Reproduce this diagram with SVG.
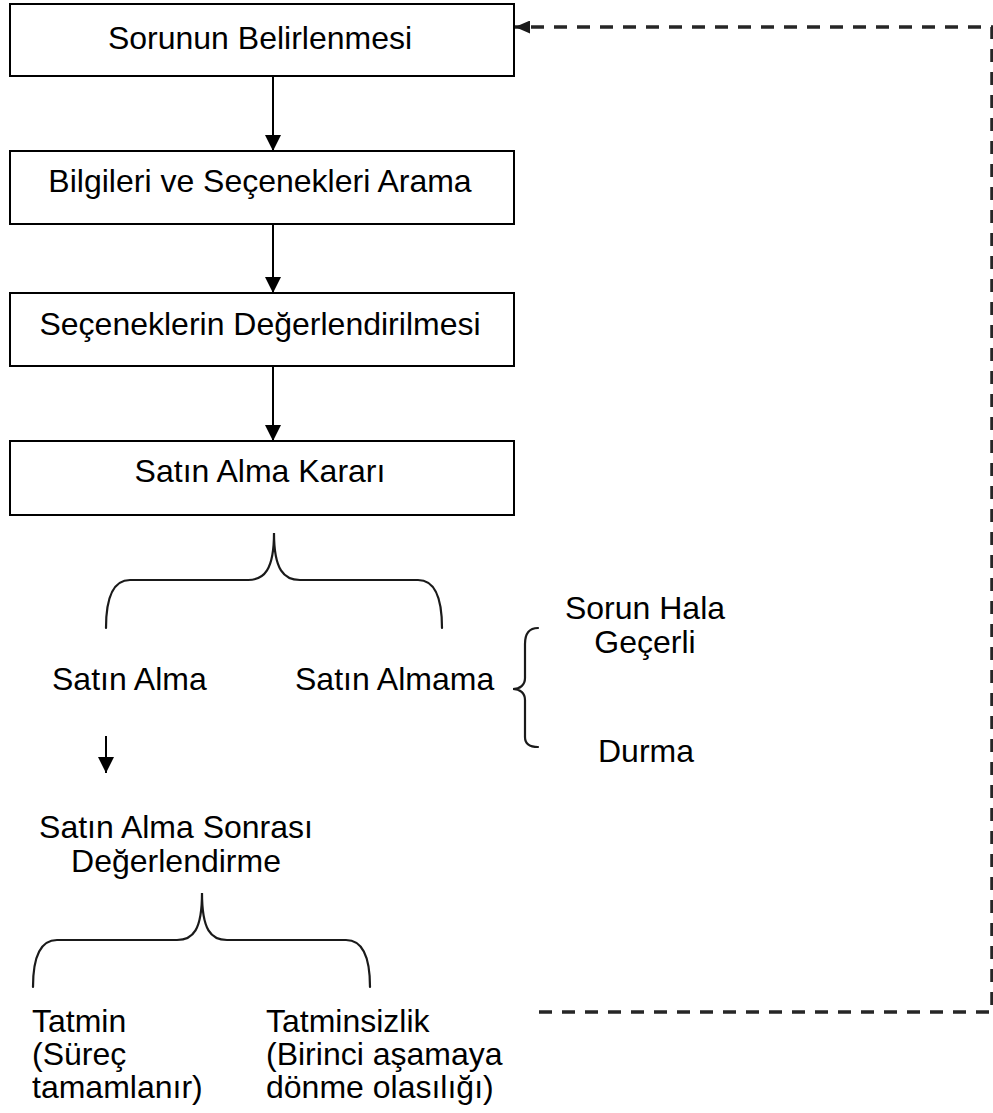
<svg xmlns="http://www.w3.org/2000/svg" width="993" height="1113" viewBox="0 0 993 1113">
  <style>
    .box { fill: #ffffff; stroke: #000000; stroke-width: 2; }
    .lbl { font-family: "Liberation Sans", Arial, sans-serif; font-size: 32px; fill: #000000; }
    .mid { text-anchor: middle; }
    .flow { stroke: #000000; stroke-width: 2; fill: none; }
    .brace { stroke: #1a1a1a; stroke-width: 2.2; fill: none; stroke-linecap: round; }
    .loop { stroke: #262626; stroke-width: 3.5; fill: none; stroke-dasharray: 13 10; }
  </style>
  <defs>
    <marker id="head" viewBox="0 0 16 16" markerWidth="16" markerHeight="16" refX="16" refY="8" orient="auto" markerUnits="userSpaceOnUse">
      <path d="M0,0 L16,8 L0,16 z" fill="#000000"/>
    </marker>
    <marker id="headSmall" viewBox="0 0 15 13" markerWidth="15" markerHeight="13" refX="15" refY="6.5" orient="auto" markerUnits="userSpaceOnUse">
      <path d="M0,0 L15,6.5 L0,13 z" fill="#1a1a1a"/>
    </marker>
  </defs>

  <!-- process steps -->
  <g id="step-sorun">
    <rect class="box" x="10" y="4" width="504" height="72"/>
    <text class="lbl mid" x="260" y="49">Sorunun Belirlenmesi</text>
  </g>
  <g id="step-bilgi">
    <rect class="box" x="10" y="151" width="504" height="73"/>
    <text class="lbl mid" x="260" y="192">Bilgileri ve Seçenekleri Arama</text>
  </g>
  <g id="step-degerlendirme">
    <rect class="box" x="10" y="293" width="504" height="73"/>
    <text class="lbl mid" x="260" y="335">Seçeneklerin Değerlendirilmesi</text>
  </g>
  <g id="step-karar">
    <rect class="box" x="10" y="441" width="504" height="74"/>
    <text class="lbl mid" x="260" y="482">Satın Alma Kararı</text>
  </g>

  <!-- decision outcomes -->
  <g id="satin-alma">
    <text class="lbl" x="52" y="690">Satın Alma</text>
  </g>
  <g id="satin-almama">
    <text class="lbl" x="295" y="690">Satın Almama</text>
  </g>
  <g id="sorun-gecerli">
    <text class="lbl mid" x="645" y="619">Sorun Hala</text>
    <text class="lbl mid" x="645" y="653">Geçerli</text>
  </g>
  <g id="durma">
    <text class="lbl mid" x="646" y="762">Durma</text>
  </g>
  <g id="sonrasi">
    <text class="lbl mid" x="176" y="838">Satın Alma Sonrası</text>
    <text class="lbl mid" x="176" y="872">Değerlendirme</text>
  </g>
  <g id="tatmin">
    <text class="lbl" x="32" y="1032">Tatmin</text>
    <text class="lbl" x="32" y="1065">(Süreç</text>
    <text class="lbl" x="32" y="1098">tamamlanır)</text>
  </g>
  <g id="tatminsizlik">
    <text class="lbl" x="266" y="1032">Tatminsizlik</text>
    <text class="lbl" x="266" y="1065">(Birinci aşamaya</text>
    <text class="lbl" x="266" y="1098">dönme olasılığı)</text>
  </g>

  <!-- connectors -->
  <g id="connectors">
    <line class="flow" x1="273" y1="76" x2="273" y2="151" marker-end="url(#head)"/>
    <line class="flow" x1="273" y1="224" x2="273" y2="293" marker-end="url(#head)"/>
    <line class="flow" x1="273" y1="366" x2="273" y2="441" marker-end="url(#head)"/>
    <line class="flow" x1="106" y1="736" x2="106" y2="773" marker-end="url(#head)"/>

    <!-- braces -->
    <path class="brace" d="M106,628 C106,600 112,580 130,580 L248,580 C264,580 274,570 274,533 C274,570 284,580 300,580 L418,580 C436,580 442,600 442,628"/>
    <path class="brace" d="M538,628 C529,628 525,634 525,644 L525,678 C525,685 520,689 513,689 C520,689 525,693 525,700 L525,737 C525,744 529,747 538,747"/>
    <path class="brace" d="M33,987 C33,959 39,940 57,940 L177,940 C193,940 202,930 202,893 C202,930 211,940 227,940 L346,940 C364,940 370,959 370,987"/>

    <!-- return loop -->
    <path class="loop" d="M539,1012 L992,1012 L992,27 L515,27" marker-end="url(#headSmall)"/>
  </g>
</svg>
